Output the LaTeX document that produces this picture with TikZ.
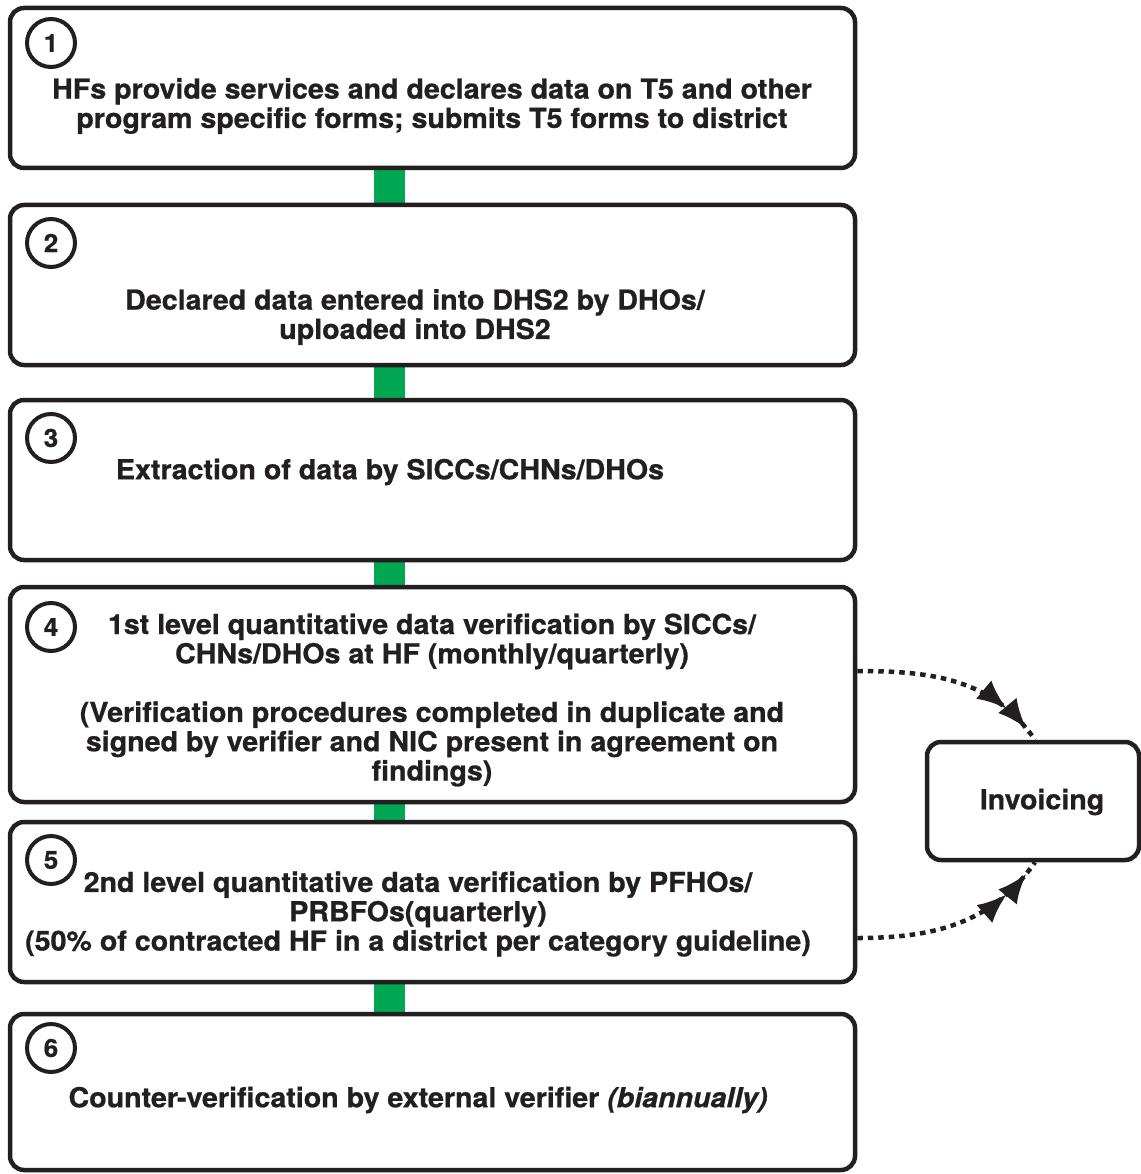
\documentclass[tikz,border=0pt]{standalone}
\usepackage{fontspec}
\setsansfont[FakeStretch=1.04, BoldFeatures={FakeBold=0.8}, BoldItalicFeatures={FakeBold=0.8}]{TeX Gyre Heros}
\usepackage{tikz}
\usetikzlibrary{
  arrows.meta,
  positioning,
  backgrounds,
  decorations.markings
}
\definecolor{boxline}{RGB}{35, 31, 32}
\definecolor{linkgreen}{RGB}{0, 166, 81}
\tikzset{
stepbox/.style={
  draw=boxline,
  line width=4.5pt,
  rounded corners=14pt,
  fill=white,
  minimum width=845pt,
  minimum height=160pt,
  inner sep=0pt
},
stepnum/.style={
  circle,
  draw=boxline,
  line width=4pt,
  fill=white,
  minimum size=48pt,
  inner sep=0pt,
  font=\sffamily\bfseries\fontsize{25}{28}\selectfont,
  text=boxline
},
steptext/.style={
  align=center,
  font=\sffamily\bfseries\fontsize{27.5}{29.3}\selectfont,
  text=boxline
},
link/.style={
  draw=linkgreen,
  line width=31pt
},
dotflow/.style={
  draw=boxline,
  line width=4.5pt,
  dash pattern=on 5.5pt off 5pt,
  postaction={decorate},
  decoration={markings,
    mark=at position 0.79 with {\arrow{Latex[length=30pt,width=24pt]}},
    mark=at position 0.93 with {\arrow{Latex[length=30pt,width=24pt]}}}
}
}

\begin{document}
\begin{tikzpicture}[x=1pt, y=-1pt]
\useasboundingbox (0,0) rectangle (1140,1174);

% ============================================================================
% Steps
% ============================================================================
\node[stepbox] (box1) at (432.5, 88) {};
\node[stepbox] (box2) at (432.5, 285) {};
\node[stepbox] (box3) at (432.5, 480) {};
\node[stepbox, minimum height=215pt] (box4) at (432.5, 694.5) {};
\node[stepbox] (box5) at (432.5, 902) {};
\node[stepbox, minimum height=156pt] (box6) at (432.5, 1092) {};

% Invoicing
\node[stepbox, minimum width=212pt, minimum height=118pt] (invoice) at (1033, 801) {};
\node[steptext] (invoicetxt) at (1042, 802) {Invoicing};

% Numbers
\node[stepnum] (n1) at (51, 43) {1};
\node[stepnum] (n2) at (51, 243) {2};
\node[stepnum] (n3) at (51, 438) {3};
\node[stepnum] (n4) at (51, 627) {4};
\node[stepnum] (n5) at (51, 860) {5};
\node[stepnum] (n6) at (51, 1048) {6};

% Texts
\node[steptext] (txt1) at (432, 106) {HFs provide services and declares data on T5 and other\\program specific forms; submits T5 forms to district};
\node[steptext] (txt2) at (415, 317) {Declared data entered into DHS2 by DHOs/\\uploaded into DHS2};
\node[steptext] (txt3) at (390, 472) {Extraction of data by SICCs/CHNs/DHOs};
\node[steptext] (txt4) at (432, 700) {1st level quantitative data verification by SICCs/\\CHNs/DHOs at HF (monthly/quarterly)\\[29.3pt]
  (Verification procedures completed in duplicate and\\signed by verifier and NIC present in agreement on\\findings)};
\node[steptext] (txt5) at (418, 914) {2nd level quantitative data verification by PFHOs/\\PRBFOs(quarterly)\\(50\% of contracted HF in a district per category guideline)};
\node[steptext] (txt6) at (418, 1100) {Counter-verification by external verifier \textit{(biannually)}};

% ============================================================================
% Links
% ============================================================================
\begin{scope}[on background layer]
\foreach \a/\b in {box1/box2, box2/box3, box3/box4, box4/box5, box5/box6}
  \draw[link] ([xshift=-43pt]\a.south) -- ([xshift=-43pt]\b.north);
\end{scope}

\draw[dotflow] ([yshift=23.5pt]box4.east) to[out=0, in=125] ([xshift=2pt]invoice.north);
\draw[dotflow] ([yshift=-36pt]box5.east) to[out=0, in=-125] ([xshift=2pt]invoice.south);

\end{tikzpicture}
\end{document}
